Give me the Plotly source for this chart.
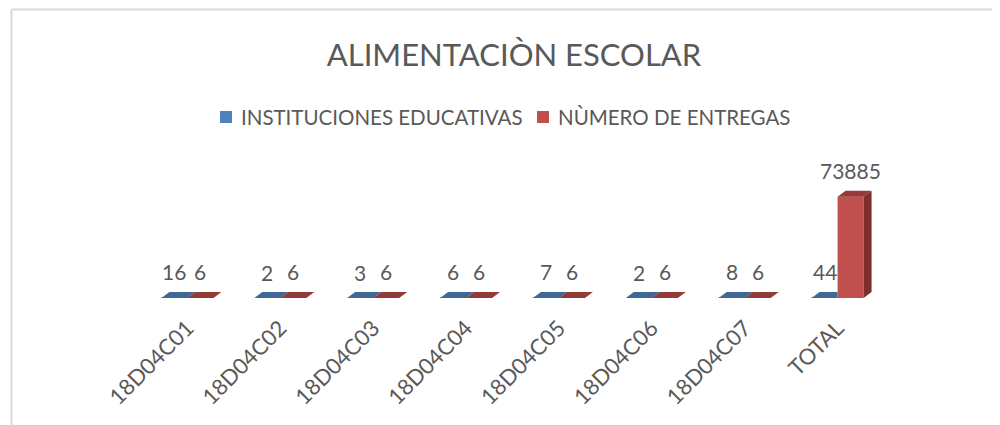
import plotly.graph_objects as go

categories = ["18D04C01", "18D04C02", "18D04C03", "18D04C04",
              "18D04C05", "18D04C06", "18D04C07", "TOTAL"]
instituciones = [16, 2, 3, 6, 7, 2, 8, 44]
entregas = [6, 6, 6, 6, 6, 6, 6, 73885]
series_names = ["INSTITUCIONES EDUCATIVAS", "NÙMERO DE ENTREGAS"]
title_text = "ALIMENTACIÒN ESCOLAR"

W, H = 1000, 425
OFF = 8  # page body margin offset
ml, mt = 141 - OFF, 150 - OFF
plot_w, plot_h = 743, 148
mr, mb = W - ml - plot_w, H - mt - plot_h
x_range = (-0.5, len(categories) - 0.5)
y_max = 108000
ux = (x_range[1] - x_range[0]) / plot_w   # data units per pixel (x)
uy = y_max / plot_h                       # data units per pixel (y)
bar_w = 0.28
dx = 8 * ux
dy = 6 * uy

FONT = "Lato, 'Open Sans', sans-serif"
TXT = "#595959"

blue_front, blue_top = "#4F81BD", "#3F6897"
red_front, red_top, red_side = "#C0504D", "#943A37", "#7E2F2D"


def px_x(p):  # reference pixel -> paper x
    return (p - OFF - ml) / plot_w


def px_y(p):  # reference pixel -> paper y
    return 1 - (p - OFF - mt) / plot_h


fig = go.Figure()

xs = list(range(len(categories)))
blue_x = [i - bar_w / 2 for i in xs]
red_x = [i + bar_w / 2 for i in xs]

# blue top faces
tx, ty = [], []
for i, v in enumerate(instituciones):
    x0, x1 = blue_x[i] - bar_w / 2, blue_x[i] + bar_w / 2
    if entregas[i] > v + dy:
        tx += [x0, x1, x1, x0 + dx, x0, None]
    else:
        tx += [x0, x1, x1 + dx, x0 + dx, x0, None]
    ty += [v, v, v + dy, v + dy, v, None]
fig.add_trace(go.Scatter(x=tx, y=ty, fill="toself", fillcolor=blue_top, mode="lines",
                         line=dict(width=0, color=blue_top), showlegend=False, hoverinfo="skip"))

# red side faces
sx, sy = [], []
for i, v in enumerate(entregas):
    x1 = red_x[i] + bar_w / 2
    sx += [x1, x1, x1 + dx, x1 + dx, x1, None]
    sy += [0, v, v + dy, dy, 0, None]
fig.add_trace(go.Scatter(x=sx, y=sy, fill="toself", fillcolor=red_side, mode="lines",
                         line=dict(width=0, color=red_side), showlegend=False, hoverinfo="skip"))

# red top faces
tx, ty = [], []
for i, v in enumerate(entregas):
    x0, x1 = red_x[i] - bar_w / 2, red_x[i] + bar_w / 2
    tx += [x0, x1, x1 + dx, x0 + dx, x0, None]
    ty += [v, v, v + dy, v + dy, v, None]
fig.add_trace(go.Scatter(x=tx, y=ty, fill="toself", fillcolor=red_top, mode="lines",
                         line=dict(width=0, color=red_top), showlegend=False, hoverinfo="skip"))

# front faces (bars)
fig.add_trace(go.Bar(x=blue_x, y=instituciones, width=bar_w, name=series_names[0],
                     marker=dict(color=blue_front, line=dict(width=0)), showlegend=False))
fig.add_trace(go.Bar(x=red_x, y=entregas, width=bar_w, name=series_names[1],
                     marker=dict(color=red_front, line=dict(width=0)), showlegend=False))

# data labels
for xc, vals in ((blue_x, instituciones), (red_x, entregas)):
    for i, v in enumerate(vals):
        fig.add_annotation(x=xc[i], y=v + dy, text=str(v), showarrow=False,
                           yanchor="middle", yshift=20,
                           font=dict(family=FONT, size=21, color=TXT))

# legend (keys + text)
legend_items = [(series_names[0], blue_front, 220), (series_names[1], red_front, 537)]
for name, col, left in legend_items:
    fig.add_shape(type="rect", xref="paper", yref="paper",
                  x0=px_x(left), x1=px_x(left + 12), y0=px_y(123), y1=px_y(111),
                  fillcolor=col, line=dict(width=0))
    fig.add_annotation(xref="paper", yref="paper", x=px_x(left + 19), y=px_y(117),
                       xanchor="left", yanchor="middle", text=name, showarrow=False,
                       font=dict(family=FONT, size=20.5, color=TXT))

# chart border (top and left edges visible)
fig.add_shape(type="line", xref="paper", yref="paper", x0=px_x(11.5), x1=px_x(1010),
              y0=px_y(9.5), y1=px_y(9.5), line=dict(color="#D9D9D9", width=2))
fig.add_shape(type="line", xref="paper", yref="paper", x0=px_x(11.5), x1=px_x(11.5),
              y0=px_y(9.5), y1=px_y(440), line=dict(color="#D9D9D9", width=2))

fig.update_layout(
    width=W, height=H,
    margin=dict(l=ml, r=mr, t=mt, b=mb),
    paper_bgcolor="white", plot_bgcolor="white",
    barmode="overlay",
    title=dict(text=title_text, x=(514 - OFF) / W, xanchor="center", xref="container",
               y=1 - (55 - OFF) / H, yanchor="middle", yref="container",
               font=dict(family=FONT, size=31, color=TXT)),
    xaxis=dict(range=list(x_range), tickmode="array", tickvals=xs, ticktext=categories,
               tickangle=-45, showgrid=False, zeroline=False, showline=False,
               ticks="", ticklabelstandoff=12,
               tickfont=dict(family=FONT, size=22, color=TXT)),
    yaxis=dict(range=[0, y_max], visible=False, showgrid=False, zeroline=False),
    showlegend=False,
)

fig.write_html("out.html")
